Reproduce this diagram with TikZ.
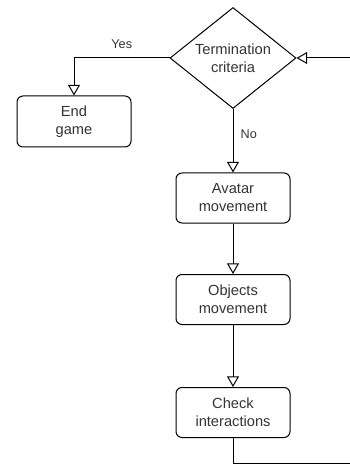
\documentclass[tikz,border=0pt]{standalone}
\usepackage{fontspec}
\setmainfont{Liberation Sans}
\usetikzlibrary{shapes.geometric, arrows.meta}
\definecolor{txt}{RGB}{51,51,51}

\begin{document}
\begin{tikzpicture}[x=0.75pt, y=-0.75pt,
    box/.style={draw, rounded corners=4.5pt, line width=0.75pt, minimum width=85.5pt, minimum height=37.5pt,
        align=center, text=txt, font=\fontsize{11}{13.5}\selectfont},
    decision/.style={draw, diamond, aspect=1.25, inner sep=0pt, line width=0.75pt, minimum width=94.5pt,
        minimum height=75.75pt, align=center, text=txt, font=\fontsize{11}{13.5}\selectfont},
    flow/.style={line width=0.75pt, -{Triangle[open, length=8pt, width=9pt]}},
    lbl/.style={text=txt, font=\fontsize{9.5}{11}\selectfont}]
    \useasboundingbox (0,0) rectangle (349,466);

    \node[decision] (crit) at (233, 58) {Termination\\criteria};
    \node[box, minimum height=38.25pt] (end) at (74, 121.5) {End\\game};
    \node[box] (avatar) at (233, 198) {Avatar\\movement};
    \node[box] (objects) at (233, 299.5) {Objects\\movement};
    \node[box] (check) at (233, 412.5) {Check\\interactions};
    \coordinate (loop) at (351.5, 463);

    \draw[flow] (crit.west) -| node[lbl, pos=0.25, above=3pt] {Yes} (end.north);
    \draw[flow] (crit.south) -- node[lbl, pos=0.4, right=2pt] {No} (avatar.north);
    \draw[flow] (avatar) -- (objects);
    \draw[flow] (objects) -- (check);
    \draw[flow] (check.south) |- (loop) |- (crit.east);
\end{tikzpicture}
\end{document}
